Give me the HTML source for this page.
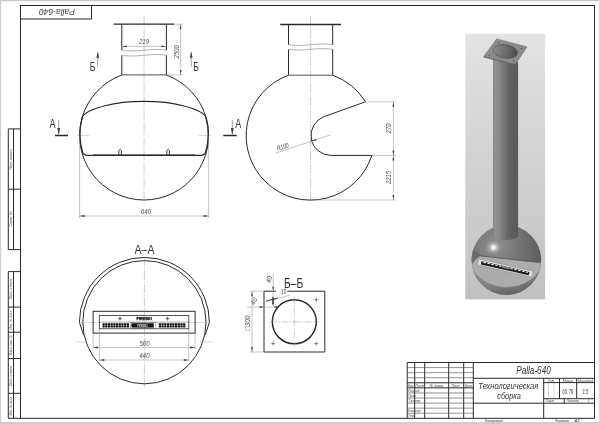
<!DOCTYPE html>
<html><head><meta charset="utf-8"><title>Palla-640</title>
<style>
html,body{margin:0;padding:0;background:#fff;}
body{width:600px;height:424px;overflow:hidden;font-family:"Liberation Sans",sans-serif;}
svg{display:block;filter:grayscale(1);}
text{font-family:"Liberation Sans",sans-serif;}
.k{stroke:#2a2a2a;fill:none;stroke-width:1;}
.k2{stroke:#2a2a2a;fill:none;stroke-width:1.3;}
.t{stroke:#8a8a8a;fill:none;stroke-width:0.5;}
.c{stroke:#9a9a9a;fill:none;stroke-width:0.5;stroke-dasharray:9 1.5 1.5 1.5;}
.d{font-style:italic;fill:#4a4a4a;font-size:7px;}
.ar{fill:#444;stroke:none;}
</style></head><body>
<svg width="600" height="424" viewBox="0 0 600 424">

<defs>
<linearGradient id="bg" x1="0" y1="0" x2="0" y2="1"><stop offset="0" stop-color="#e3e3e3"/><stop offset="1" stop-color="#c1c1c1"/></linearGradient>
<linearGradient id="pipe" x1="0" y1="0" x2="1" y2="0"><stop offset="0" stop-color="#7e7e7e"/><stop offset="0.07" stop-color="#929292"/><stop offset="0.3" stop-color="#848484"/><stop offset="0.58" stop-color="#676767"/><stop offset="0.8" stop-color="#5d5d5d"/><stop offset="1" stop-color="#5a5a5a"/></linearGradient>
<linearGradient id="hole" x1="0" y1="0" x2="1" y2="0"><stop offset="0" stop-color="#8a8a8a"/><stop offset="1" stop-color="#4e4e4e"/></linearGradient>
<radialGradient id="sph" cx="0.34" cy="0.30" r="0.75"><stop offset="0" stop-color="#929292"/><stop offset="0.4" stop-color="#787878"/><stop offset="1" stop-color="#595959"/></radialGradient>
<radialGradient id="hl" cx="0.5" cy="0.5" r="0.5"><stop offset="0" stop-color="#fafafa"/><stop offset="0.22" stop-color="#ececec" stop-opacity="0.95"/><stop offset="0.5" stop-color="#c4c4c4" stop-opacity="0.55"/><stop offset="1" stop-color="#999" stop-opacity="0"/></radialGradient>
<clipPath id="sc"><circle cx="506.4" cy="260" r="34.8"/></clipPath>
<linearGradient id="low" x1="0.2" y1="0" x2="0.6" y2="1"><stop offset="0" stop-color="#9c9c9c"/><stop offset="0.55" stop-color="#808080"/><stop offset="1" stop-color="#585858"/></linearGradient>
</defs>
<rect x="0" y="0" width="600" height="424" fill="#fff"/>
<rect x="0" y="0" width="600" height="1.2" fill="#c6c6c6"/>
<rect x="0" y="0" width="1.2" height="424" fill="#d0d0d0"/>
<rect x="598.8" y="0" width="1.2" height="424" fill="#dcdcdc"/>
<rect x="0" y="422" width="600" height="2" fill="#cfcfcf"/>
<rect class="k" x="20.5" y="5.5" width="574" height="412.8"/>
<path class="k" d="M91.5 5.5V19H20.5"/>
<text transform="translate(57 12.3) rotate(180)" text-anchor="middle" font-size="8.3" font-style="italic" fill="#444" textLength="36" lengthAdjust="spacingAndGlyphs" dominant-baseline="central">Palla-640</text>
<path class="k" d="M20.5 128.9H8.3V249.6H20.5M13.5 128.9V249.6M8.3 189.2H20.5"/>
<path class="k" d="M20.5 271.6H8.3V418.3H20.5M13.5 271.6V418.3M8.3 307.1H20.5M8.3 332.2H20.5M8.3 358.5H20.5M8.3 393.3H20.5"/>
<text transform="translate(12.2 159) rotate(-90)" text-anchor="middle" font-size="4" font-style="italic" fill="#555" textLength="21" lengthAdjust="spacingAndGlyphs">Перв. примен.</text>
<text transform="translate(12.2 219) rotate(-90)" text-anchor="middle" font-size="4" font-style="italic" fill="#555" textLength="15" lengthAdjust="spacingAndGlyphs">Справ. №</text>
<text transform="translate(12.2 289) rotate(-90)" text-anchor="middle" font-size="4" font-style="italic" fill="#555" textLength="20" lengthAdjust="spacingAndGlyphs">Подп. и дата</text>
<text transform="translate(12.2 320) rotate(-90)" text-anchor="middle" font-size="4" font-style="italic" fill="#555" textLength="19" lengthAdjust="spacingAndGlyphs">Инв. № дубл.</text>
<text transform="translate(12.2 345) rotate(-90)" text-anchor="middle" font-size="4" font-style="italic" fill="#555" textLength="20" lengthAdjust="spacingAndGlyphs">Взам. инв. №</text>
<text transform="translate(12.2 376) rotate(-90)" text-anchor="middle" font-size="4" font-style="italic" fill="#555" textLength="20" lengthAdjust="spacingAndGlyphs">Подп. и дата</text>
<text transform="translate(12.2 406) rotate(-90)" text-anchor="middle" font-size="4" font-style="italic" fill="#555" textLength="19" lengthAdjust="spacingAndGlyphs">Инв. № подл.</text>
<path class="c" d="M144.1 16V203"/>
<path style="stroke:#aaa" class="t" d="M77 135.5H89M199 135.5H211"/>
<path class="k2" d="M113.6 24.2H174"/>
<path class="k" d="M121.8 24.2V50.2M166.4 24.2V50.1M121.8 55.4V74.9M166.4 55.2V74.9"/>
<path style="stroke:#333;stroke-width:0.85" class="t" d="M121.8 74.9H166.4"/>
<path style="stroke:#666" class="t" d="M121.8 50.2C128 51.3 136 51 144 50.2C152 49.3 160 49.1 166.4 50.1M121.8 55.4C128 56.4 136 56.1 144 55.3C152 54.4 160 54.2 166.4 55.2"/>
<path class="k" d="M166.4 74.98A64.5 64.5 0 1 1 121.8 74.98"/>
<path style="stroke-width:1.15" class="k2" d="M82.2 117.5C83.5 113.5 93 109 105 105.8C117 102.6 131 101.4 144.1 101.4C157.2 101.4 171.2 102.6 183.2 105.8C195.2 109 204.7 113.5 206 117.5"/>
<path class="k2" d="M82.2 117.5A64.5 64.5 0 0 0 82.8 153.2Q84.3 155.3 87 155.3H201.2Q203.9 155.3 205.4 153.2A64.5 64.5 0 0 0 206 117.5" />
<path style="stroke-width:1.5" class="k2" d="M93 155.3H195.2"/>
<path style="stroke:#555" class="t" d="M94.5 153.8V156.8M193.7 153.8V156.8"/>
<path style="stroke-width:0.9" class="k" d="M118.8 155.3V150.6Q120.1 148.6 121.39999999999999 150.6V155.3"/>
<path style="stroke-width:0.9" class="k" d="M166.79999999999998 155.3V150.6Q168.1 148.6 169.4 150.6V155.3"/>
<path class="t" d="M121.8 46.4H166.4"/>
<path class="ar" d="M121.8 46.4l5 -0.9v1.8zM166.4 46.4l-5 -0.9v1.8z"/>
<text class="d" x="144" y="44.4" text-anchor="middle" textLength="10" lengthAdjust="spacingAndGlyphs">219</text>
<path class="t" d="M174 24.2H183M166.4 74.9H183M180.6 24.2V74.9"/>
<path class="ar" d="M180.6 24.2l-0.9 5h1.8zM180.6 74.9l-0.9 -5h1.8z"/>
<text class="d" transform="translate(178.8 51.8) rotate(-90)" text-anchor="middle" textLength="13.2" lengthAdjust="spacingAndGlyphs">2500</text>
<path class="t" d="M79.6 135.5V218M208.6 135.5V218M79.6 216H208.6"/>
<path class="ar" d="M79.6 216l5 -0.9v1.8zM208.6 216l-5 -0.9v1.8z"/>
<text class="d" x="146" y="214" text-anchor="middle" textLength="10" lengthAdjust="spacingAndGlyphs">640</text>
<text x="89.8" y="70.6" font-size="12" fill="#333" textLength="5.6" lengthAdjust="spacingAndGlyphs">Б</text>
<text x="193.3" y="70.6" font-size="12" fill="#333" textLength="5.6" lengthAdjust="spacingAndGlyphs">Б</text>
<path style="stroke:#444" class="t" d="M97.7 53V66.7M191.2 53V66.7"/>
<path class="ar" d="M97.7 51.2l-1.4 6.5h2.8zM191.2 51.2l-1.4 6.5h2.8z"/>
<text x="49.6" y="128" font-size="12" fill="#333" textLength="6" lengthAdjust="spacingAndGlyphs">А</text>
<text x="235.3" y="128" font-size="12" fill="#333" textLength="6" lengthAdjust="spacingAndGlyphs">А</text>
<path style="stroke-width:1.5" class="k2" d="M55 135.5H68M223.3 135.5H236.7"/>
<path style="stroke:#444" class="t" d="M58.7 120V134M232.3 120V134"/>
<path class="ar" d="M58.7 135l-1.5 -7h3zM232.3 135l-1.5 -7h3z"/>
<path class="c" d="M310.6 16V202"/>
<path class="k2" d="M280.2 24.5H341"/>
<path class="k" d="M288.5 24.5V44.7M332.7 24.5V44.7M288.5 49.4V75.2M332.7 49.3V75.2"/>
<path style="stroke:#333;stroke-width:0.85" class="t" d="M288.5 75.2H332.7"/>
<path style="stroke:#666" class="t" d="M288.5 44.7C295 45.8 303 45.5 310.5 44.7C318 43.8 326 43.6 332.7 44.6M288.5 49.4C295 50.5 303 50.2 310.5 49.4C318 48.5 326 48.3 332.7 49.3"/>
<path class="k" d="M332.7 75.2A64.4 64.4 0 0 1 365.48 101.80L324.18 116.60A20.0 20.0 0 0 0 331.00 155.40H371.85A64.4 64.4 0 1 1 288.5 75.2"/>
<path class="t" d="M365.48 101.80H396M371.85 155.40H396M310.6 200H396M393.4 101.80V200"/>
<path class="ar" d="M393.4 101.80l-0.9 5h1.8zM393.4 155.40l-0.9 -5h1.8zM393.4 155.40l-0.9 5h1.8zM393.4 200l-0.9 -5h1.8z"/>
<text class="d" transform="translate(391.3 128.5) rotate(-90)" text-anchor="middle" textLength="10" lengthAdjust="spacingAndGlyphs">270</text>
<text class="d" transform="translate(391.3 177.5) rotate(-90)" text-anchor="middle" textLength="13.2" lengthAdjust="spacingAndGlyphs">2215</text>
<path class="t" d="M275 153.3L330.3 135"/>
<path class="ar" d="M311.3 141.3l5.1 -0.7l-0.6 -1.8z"/>
<text class="d" transform="translate(277.8 150.8) rotate(-18.3)" textLength="12" lengthAdjust="spacingAndGlyphs">R100</text>
<text x="144.5" y="254.4" font-size="12" fill="#333" text-anchor="middle" textLength="20" lengthAdjust="spacingAndGlyphs">А–А</text>
<path class="c" d="M144.4 257V388"/>
<circle class="k" cx="144.4" cy="322.2" r="61.6"/>
<path class="k" d="M83.6 335L79.4 322.4A64.6 64.6 0 0 1 209.4 322.4L205.2 335"/>
<path style="stroke:#aaa" class="t" d="M76.5 342H88.5M200 342H212.5M79.4 322.4H100M188.8 322.4H209.4"/>
<rect class="k" x="93.1" y="311.3" width="102" height="21.8"/>
<rect style="stroke-width:0.8" class="k" x="99.3" y="315.6" width="89.5" height="13.2"/>
<path style="stroke:#555" class="t" d="M99.3 322.1H188.8"/>
<path d="M102.5 324.3H129.3M102.5 326.6H129.3M158.8 324.3H185.6M158.8 326.6H185.6" stroke="#111" stroke-width="2" stroke-dasharray="2.2 0.5" fill="none"/>
<rect x="131.4" y="323.2" width="22.4" height="4.4" fill="#161616"/>
<rect x="130.2" y="322.6" width="25" height="5.6" fill="none" stroke="#555" stroke-width="0.4"/>
<text x="142.6" y="326.9" font-size="3.4" font-weight="bold" fill="#c8c8c8" text-anchor="middle" textLength="11">FIREBIO</text>
<text x="144.2" y="320" font-size="4.3" font-weight="bold" fill="#000" stroke="#000" stroke-width="0.25" text-anchor="middle" textLength="15.5" lengthAdjust="spacingAndGlyphs">FIREBIO</text>
<circle cx="120" cy="318.6" r="1.15" fill="#333"/>
<path style="stroke:#666" class="t" d="M117.6 318.6H122.4M120 316.4V320.8"/>
<circle cx="167.5" cy="318.6" r="1.15" fill="#333"/>
<path style="stroke:#666" class="t" d="M165.1 318.6H169.9M167.5 316.4V320.8"/>
<path class="t" d="M93.1 333.1V349M195.1 333.1V349M93.1 347.5H195.1M99.3 328.8V361.5M188.8 328.8V361.5M99.3 360H188.8"/>
<path class="ar" d="M93.1 347.5l5 -0.9v1.8zM195.1 347.5l-5 -0.9v1.8zM99.3 360l5 -0.9v1.8zM188.8 360l-5 -0.9v1.8z"/>
<text class="d" x="144.5" y="345.6" text-anchor="middle" textLength="10" lengthAdjust="spacingAndGlyphs">500</text>
<text class="d" x="144.5" y="358.2" text-anchor="middle" textLength="10" lengthAdjust="spacingAndGlyphs">440</text>
<text x="293.6" y="287.6" font-size="14" fill="#333" text-anchor="middle" textLength="19" lengthAdjust="spacingAndGlyphs">Б–Б</text>
<path class="k" d="M276 291.2H264V352H324.8V291.2H287.3"/>
<circle style="stroke-width:1.5" class="k2" cx="294.3" cy="321.8" r="22"/>
<path style="stroke-dasharray:7 1.5 1.5 1.5" class="c" d="M294.3 296.5V347M270 321.8H319"/>
<circle cx="273.2" cy="299.7" r="0.9" fill="#333"/>
<path style="stroke:#777" class="t" d="M270.59999999999997 299.7H275.8M273.2 297.09999999999997V302.3"/>
<circle cx="273.2" cy="343.6" r="0.9" fill="#333"/>
<path style="stroke:#777" class="t" d="M270.59999999999997 343.6H275.8M273.2 341.0V346.20000000000005"/>
<circle cx="316.2" cy="299.7" r="0.9" fill="#333"/>
<path style="stroke:#777" class="t" d="M313.59999999999997 299.7H318.8M316.2 297.09999999999997V302.3"/>
<circle cx="316.2" cy="343.6" r="0.9" fill="#333"/>
<path style="stroke:#777" class="t" d="M313.59999999999997 343.6H318.8M316.2 341.0V346.20000000000005"/>
<path class="t" d="M273.2 274V306.5M250 291.2H264M250 352H264M252 291.2V352M247 307.2H276.8M273.2 299.6L289.8 295"/>
<path class="ar" d="M273.2 291.2l-0.9 -4.5h1.8zM273.2 299.7l-0.9 4.5h1.8zM252 291.2l-0.9 5h1.8zM252 352l-0.9 -5h1.8zM264 307l-4.5 -0.9v1.8zM273.2 307l4 -0.9v1.8z"/>
<path d="M266 301.2L277.7 297.9" stroke="#222" stroke-width="0.9" fill="none"/>
<path d="M272.9 296.8V304.5" stroke="#222" stroke-width="0.9" fill="none"/>
<text class="d" transform="translate(271.6 280) rotate(-78)" text-anchor="middle" textLength="7" lengthAdjust="spacingAndGlyphs">40</text>
<text class="d" transform="translate(256 302.3) rotate(-62)" text-anchor="middle" textLength="7" lengthAdjust="spacingAndGlyphs">40</text>
<text class="d" x="283.7" y="293.9" text-anchor="middle" style="fill:#333" textLength="5.2" lengthAdjust="spacingAndGlyphs" transform="rotate(-8 283.7 291.3)">10</text>
<text class="d" transform="translate(250 323) rotate(-90)" text-anchor="middle" textLength="15" lengthAdjust="spacingAndGlyphs">□300</text>
<rect x="465.3" y="33.8" width="79.8" height="265.6" fill="url(#bg)"/>
<circle cx="506.4" cy="260" r="34.8" fill="url(#sph)"/>
<g clip-path="url(#sc)">
<path d="M468 262L545 262L545 300L468 300Z" fill="url(#low)"/>
<path d="M471.5 249.4Q476 253.5 480.5 255.8L479.8 256.6Q474 260 470.8 267L468 267L468 249Z" fill="#6c6c6c"/>
<path d="M471 266.5Q474 260 480 256.2L540.3 262.7L541.5 266.5C536 279.5 522 287.6 506 287.4C490 287.1 476 278.5 471 266.5Z" fill="#acacac"/>
<path d="M471 266.5C476 278.5 490 287.1 506 287.4C522 287.6 536 279.5 541.5 266.5" stroke="#777" stroke-width="0.5" fill="none"/>
<path d="M471.5 249.4Q476 253.5 480.5 255.8L540.3 262.7" stroke="#555" stroke-width="0.7" fill="none"/>
</g>
<g transform="translate(505.25 268) rotate(12.7)">
<rect x="-28" y="-3.1" width="56" height="6.2" fill="#dedede" stroke="#888" stroke-width="0.5"/>
<rect x="-24.5" y="-1.5" width="49" height="3.4" fill="#1c1c1c"/>
<path d="M-22.5 -0.7H-4.5M5 -0.7H23" stroke="#eee" stroke-width="1.1" stroke-dasharray="2.6 1.4" fill="none"/>
<rect x="-4" y="-1.5" width="8.5" height="2" fill="#8a8a8a"/>
</g>
<ellipse cx="493.5" cy="247.4" rx="8.5" ry="8" fill="url(#hl)"/>
<path d="M493.1 58.5L518.1 62V236.3A12.5 3.6 0 0 1 493.1 236.3Z" fill="url(#pipe)"/>
<path d="M496.7 38.9L527 46.9L515.2 64.5L483.7 56.6Z" fill="#8c8c8c" stroke="#5c5c5c" stroke-width="0.5"/>
<path d="M483.7 56.6L515.2 64.5L515.2 65.3L483.7 57.4Z" fill="#666"/>
<ellipse cx="505.3" cy="51.4" rx="12.3" ry="6.7" transform="rotate(9 505.3 51.4)" fill="url(#hole)" stroke="#444" stroke-width="0.5"/>
<circle cx="498.3" cy="42.6" r="0.6" fill="#444"/>
<circle cx="521.5" cy="48.6" r="0.6" fill="#444"/>
<circle cx="513.6" cy="60.8" r="0.6" fill="#444"/>
<circle cx="489.2" cy="55.2" r="0.6" fill="#444"/>
<path class="k" d="M407.2 362.5H594.5M407.2 362.5V418.3"/>
<path class="k" d="M414.7 362.5V418.3"/>
<path class="k" d="M424.7 362.5V418.3"/>
<path class="k" d="M448.7 362.5V418.3"/>
<path class="k" d="M463.7 362.5V418.3"/>
<path class="k" d="M473.3 362.5V418.3"/>
<path style="stroke:#4a4a4a;stroke-width:0.6" class="t" d="M407.2 367.57H473.3"/>
<path style="stroke:#4a4a4a;stroke-width:0.6" class="t" d="M407.2 372.65H473.3"/>
<path style="stroke:#4a4a4a;stroke-width:0.6" class="t" d="M407.2 377.72H473.3"/>
<path class="k" d="M407.2 382.79H473.3"/>
<path class="k" d="M407.2 387.86H473.3"/>
<path style="stroke:#4a4a4a;stroke-width:0.6" class="t" d="M407.2 392.94H473.3"/>
<path style="stroke:#4a4a4a;stroke-width:0.6" class="t" d="M407.2 398.01H473.3"/>
<path style="stroke:#4a4a4a;stroke-width:0.6" class="t" d="M407.2 403.08H473.3"/>
<path style="stroke:#4a4a4a;stroke-width:0.6" class="t" d="M407.2 408.15H473.3"/>
<path style="stroke:#4a4a4a;stroke-width:0.6" class="t" d="M407.2 413.23H473.3"/>
<path class="k" d="M473.3 378.3H594.5M473.3 403.2H594.5M543.7 378.3V418.3M543.7 382.6H594.5M543.7 398.7H594.5M559.5 378.3V398.7M576.7 378.3V398.7M564.2 398.7V403.2"/>
<path style="stroke:#aaa" class="t" d="M548.5 382.6V398.7M554 382.6V398.7"/>
<text x="533.5" y="374.3" font-size="10" font-style="italic" fill="#333" text-anchor="middle" textLength="34.6" lengthAdjust="spacingAndGlyphs">Palla-640</text>
<text x="508.3" y="389.2" font-size="9" font-style="italic" fill="#333" text-anchor="middle" textLength="60" lengthAdjust="spacingAndGlyphs">Технологическая</text>
<text x="509" y="398.6" font-size="9" font-style="italic" fill="#333" text-anchor="middle" textLength="23.5" lengthAdjust="spacingAndGlyphs">сборка</text>
<text x="407.8" y="386.76363636363635" font-size="4.3" font-style="italic" fill="#3a3a3a" text-anchor="start" textLength="6.2" lengthAdjust="spacingAndGlyphs">Изм.</text>
<text x="415.2" y="386.76363636363635" font-size="4.3" font-style="italic" fill="#3a3a3a" text-anchor="start" textLength="8.8" lengthAdjust="spacingAndGlyphs">Лист</text>
<text x="429.5" y="386.76363636363635" font-size="4.3" font-style="italic" fill="#3a3a3a" text-anchor="start" textLength="14.5" lengthAdjust="spacingAndGlyphs">№ докум.</text>
<text x="451.5" y="386.76363636363635" font-size="4.3" font-style="italic" fill="#3a3a3a" text-anchor="start" textLength="9" lengthAdjust="spacingAndGlyphs">Подп.</text>
<text x="464.8" y="386.76363636363635" font-size="4.3" font-style="italic" fill="#3a3a3a" text-anchor="start" textLength="7.5" lengthAdjust="spacingAndGlyphs">Дата</text>
<text x="408.3" y="391.93636363636364" font-size="4.3" font-style="italic" fill="#3a3a3a" text-anchor="start" textLength="12" lengthAdjust="spacingAndGlyphs">Разраб.</text>
<text x="408.3" y="397.0090909090909" font-size="4.3" font-style="italic" fill="#3a3a3a" text-anchor="start" textLength="8" lengthAdjust="spacingAndGlyphs">Пров.</text>
<text x="408.3" y="402.0818181818182" font-size="4.3" font-style="italic" fill="#3a3a3a" text-anchor="start" textLength="13" lengthAdjust="spacingAndGlyphs">Т.контр.</text>
<text x="408.3" y="412.22727272727275" font-size="4.3" font-style="italic" fill="#3a3a3a" text-anchor="start" textLength="13" lengthAdjust="spacingAndGlyphs">Н.контр.</text>
<text x="408.3" y="417.3" font-size="4.3" font-style="italic" fill="#3a3a3a" text-anchor="start" textLength="6.5" lengthAdjust="spacingAndGlyphs">Утв.</text>
<text x="551.6" y="381.7" font-size="4.2" font-style="italic" fill="#3a3a3a" text-anchor="middle" textLength="6.5" lengthAdjust="spacingAndGlyphs">Лит.</text>
<text x="568" y="381.7" font-size="4.2" font-style="italic" fill="#3a3a3a" text-anchor="middle" textLength="10.5" lengthAdjust="spacingAndGlyphs">Масса</text>
<text x="585.5" y="381.7" font-size="4.2" font-style="italic" fill="#3a3a3a" text-anchor="middle" textLength="15" lengthAdjust="spacingAndGlyphs">Масштаб</text>
<text x="567.8" y="393.6" font-size="7.2" font-style="italic" fill="#444" text-anchor="middle" textLength="11" lengthAdjust="spacingAndGlyphs">60.76</text>
<text x="585.4" y="393.6" font-size="7.2" font-style="italic" fill="#444" text-anchor="middle" textLength="6" lengthAdjust="spacingAndGlyphs">1:5</text>
<text x="546" y="402.3" font-size="4.3" font-style="italic" fill="#3a3a3a" text-anchor="start" textLength="8" lengthAdjust="spacingAndGlyphs">Лист</text>
<text x="566.5" y="402.3" font-size="4.3" font-style="italic" fill="#3a3a3a" text-anchor="start" textLength="12" lengthAdjust="spacingAndGlyphs">Листов</text>
<text x="588" y="402.3" font-size="4.3" font-style="italic" fill="#3a3a3a" text-anchor="start" textLength="1.5" lengthAdjust="spacingAndGlyphs">1</text>
<text x="485" y="422.3" font-size="4.3" font-style="italic" fill="#3a3a3a" text-anchor="start" textLength="18" lengthAdjust="spacingAndGlyphs">Копировал</text>
<text x="555" y="422.3" font-size="4.3" font-style="italic" fill="#3a3a3a" text-anchor="start" textLength="14" lengthAdjust="spacingAndGlyphs">Формат</text>
<text x="574.5" y="422.3" font-size="4.3" font-style="italic" fill="#3a3a3a" text-anchor="start" textLength="5" lengthAdjust="spacingAndGlyphs">А2</text>
</svg></body></html>
